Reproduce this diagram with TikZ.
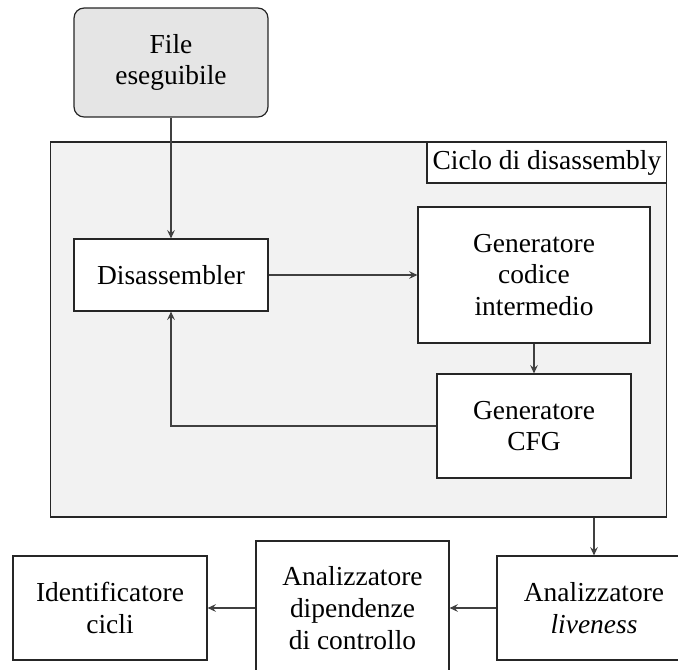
\documentclass[tikz,border=0pt]{standalone}
\usepackage{fontspec}
\setmainfont{Liberation Serif}
\usetikzlibrary{arrows.meta}
\tikzset{
  blocco/.style={draw=black!85, fill=white, line width=0.55pt, align=center, inner sep=0pt, minimum width=31.04mm},
  freccia/.style={draw=black!75, line width=0.55pt, -{Stealth[length=3.8pt,width=3.5pt,inset=1.4pt]}},
}
\begin{document}
\begin{tikzpicture}[x=0.016cm, y=-0.016cm, font=\fontsize{12.5}{14.5}\selectfont]
  \useasboundingbox (0,0) rectangle (678,670); %
  \clip (0,0) rectangle (678,670); %
  % ciclo di disassembly
  \node[blocco, fill=black!5, minimum width=98.72mm, minimum height=60mm] (ciclo) at (358.5,329.5) {}; %
  \node[blocco, anchor=north east, minimum width=38.4mm, minimum height=6.56mm] (etichetta) at (ciclo.north east) {Ciclo di disassembly}; %
  \node[blocco, fill=black!10, rounded corners=1.6mm, minimum height=17.44mm] (file) at (171,62.5) {File\\eseguibile}; %
  \node[blocco, minimum height=11.52mm] (disasm) at (171,275) {Disassembler}; %
  \node[blocco, minimum width=37.12mm, minimum height=21.76mm] (codice) at (534,275) {Generatore\\codice\\intermedio}; %
  \node[blocco, minimum height=16.64mm] (cfg) at (534,426) {Generatore\\CFG}; %
  % analisi
  \node[blocco, minimum height=16.64mm] (liveness) at (594,608) {Analizzatore\\\textit{liveness}}; %
  \node[blocco, minimum width=30.88mm, minimum height=21.44mm] (dipendenze) at (352.5,608) {Analizzatore\\dipendenze\\di controllo}; %
  \node[blocco, minimum height=16.64mm] (cicli) at (110,608) {Identificatore\\cicli}; %
  \draw[freccia] (file) -- (disasm); %
  \draw[freccia] (disasm) -- (codice); %
  \draw[freccia] (codice) -- (cfg); %
  \draw[freccia] (cfg.west) -| (disasm.south); %
  \draw[freccia] (ciclo.south -| liveness.north) -- (liveness.north); %
  \draw[freccia] (liveness) -- (dipendenze); %
  \draw[freccia] (dipendenze) -- (cicli); %
\end{tikzpicture}
\end{document}
